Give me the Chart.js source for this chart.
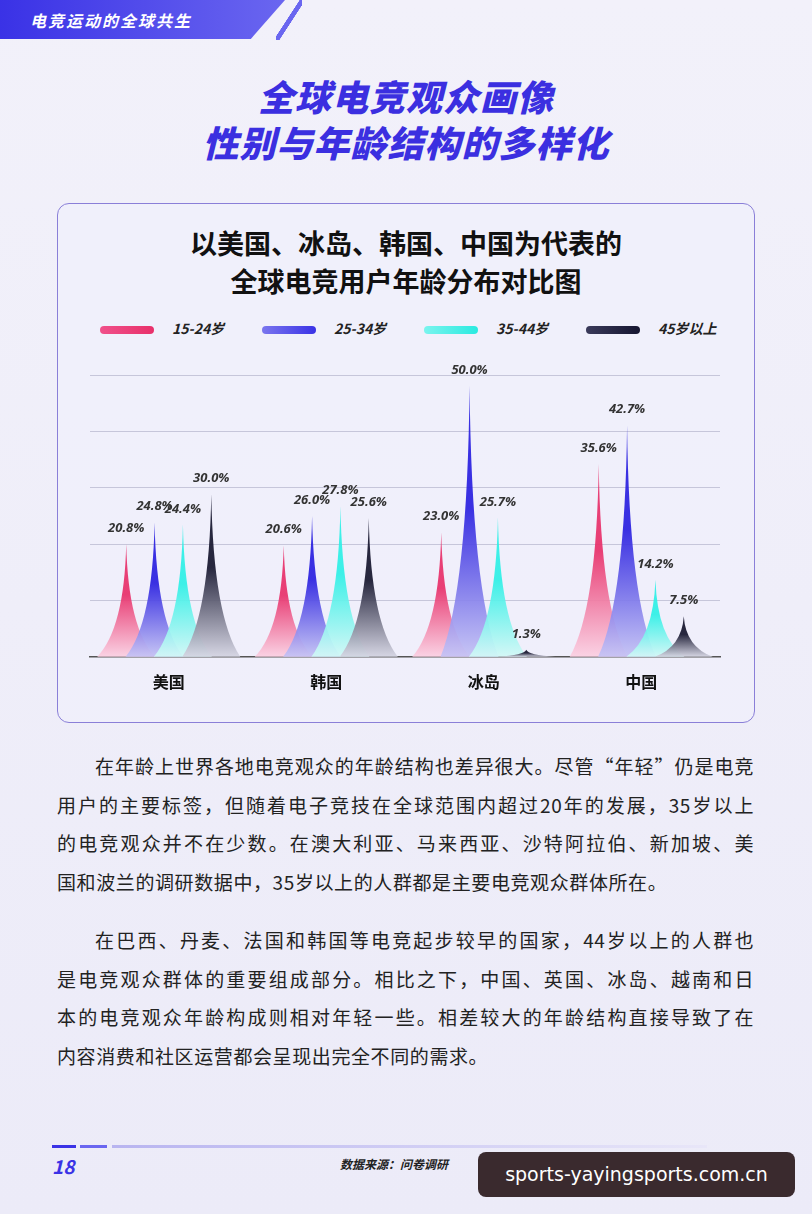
<!DOCTYPE html>
<html><head><meta charset="utf-8">
<script src="https://cdn.jsdelivr.net/npm/chart.js@4"></script>
<style>
body{margin:0;width:812px;height:1214px;overflow:hidden;background:linear-gradient(180deg,#f2f1fa,#ecebf8);font-family:"Noto Sans CJK SC","Noto Sans",sans-serif;position:relative}
.tab{position:absolute;left:0;top:0;width:285px;height:39px;background:linear-gradient(90deg,#3a32e6,#6a66f0);clip-path:polygon(0 0,100% 0,88% 100%,0 100%)}
.tab span{position:absolute;left:30px;top:8px;color:#fff;font-size:16px;font-weight:bold;letter-spacing:2px;font-style:italic}
.slash{position:absolute;left:276px;top:0;width:26px;height:40px;background:linear-gradient(to bottom right,transparent 45%,#6a66f0 46%,#6a66f0 56%,transparent 57%)}
h1{position:absolute;left:0;width:812px;top:72px;margin:0;text-align:center;font-size:36px;line-height:46px;font-style:italic;font-weight:900;color:#3b2fe0;letter-spacing:1px}
.card{position:absolute;left:57px;top:203px;width:696px;height:518px;border:1.5px solid #8a7fd8;border-radius:12px;background:rgba(240,240,252,.6)}
.card h2{margin:0;position:absolute;top:20px;width:100%;text-align:center;font-size:27px;line-height:38px;color:#111;font-weight:bold}
.leg{position:absolute;top:318px;font-size:14px;color:#222;font-style:italic;font-weight:bold}
.leg i{display:inline-block;width:54px;height:8px;border-radius:4px;vertical-align:middle;margin-right:18px}
#wrap{position:absolute;left:70px;top:340px;width:670px;height:360px}
.p{position:absolute;left:57px;width:697px;font-size:19px;letter-spacing:.6px;line-height:38.5px;color:#222}
.p span{display:block;white-space:nowrap;text-align:justify;text-align-last:justify}
.p span.f{padding-left:38px}
.p span.l{text-align-last:left}
.foot{position:absolute;top:1145px;left:52px;width:655px;height:3px;background:linear-gradient(90deg,#3a32e6 0,#3a32e6 24px,transparent 24px,transparent 28px,#6a66f0 28px,#6a66f0 55px,transparent 55px,transparent 60px,#b8b4f0 60px,#e8e6f8 100%)}
.pg{position:absolute;left:52px;top:1152px;font-size:19px;font-weight:bold;font-style:italic;color:#3a32e6}
.src{position:absolute;left:340px;top:1155px;font-size:12px;font-weight:bold;font-style:italic;color:#222}
.wm{position:absolute;left:478px;top:1152px;width:317px;height:45px;border-radius:8px;background:#3a2a2e;color:#fff;font-size:19px;line-height:45px;text-align:center;font-family:"DejaVu Sans",sans-serif}
</style></head><body>
<div class="tab"><span>电竞运动的全球共生</span></div><div class="slash"></div>
<h1>全球电竞观众画像<br>性别与年龄结构的多样化</h1>
<div class="card"><h2>以美国、冰岛、韩国、中国为代表的<br>全球电竞用户年龄分布对比图</h2></div>
<div class="leg" style="left:100px"><i style="background:linear-gradient(90deg,#f0508a,#e8306a)"></i>15-24岁</div>
<div class="leg" style="left:262px"><i style="background:linear-gradient(90deg,#7a76ee,#3a32e6)"></i>25-34岁</div>
<div class="leg" style="left:424px"><i style="background:linear-gradient(90deg,#7af4ee,#2aeae0)"></i>35-44岁</div>
<div class="leg" style="left:586px"><i style="background:linear-gradient(90deg,#3a3a5a,#151530)"></i>45岁以上</div>
<div id="wrap"><canvas id="c"></canvas></div>
<div class="p" style="top:747px"><span class="f">在年龄上世界各地电竞观众的年龄结构也差异很大。尽管“年轻”仍是电竞</span><span>用户的主要标签，但随着电子竞技在全球范围内超过20年的发展，35岁以上</span><span>的电竞观众并不在少数。在澳大利亚、马来西亚、沙特阿拉伯、新加坡、美</span><span class="l">国和波兰的调研数据中，35岁以上的人群都是主要电竞观众群体所在。</span></div>
<div class="p" style="top:921px"><span class="f">在巴西、丹麦、法国和韩国等电竞起步较早的国家，44岁以上的人群也</span><span>是电竞观众群体的重要组成部分。相比之下，中国、英国、冰岛、越南和日</span><span>本的电竞观众年龄构成则相对年轻一些。相差较大的年龄结构直接导致了在</span><span class="l">内容消费和社区运营都会呈现出完全不同的需求。</span></div>
<div class="foot"></div><div class="pg">18</div><div class="src">数据来源：问卷调研</div>
<div class="wm">sports-yayingsports.com.cn</div>
<script>
const countries = ['美国', '韩国', '冰岛', '中国'];
const ageGroups = ['15-24岁', '25-34岁', '35-44岁', '45岁以上'];
const age15_24 = [20.8, 20.6, 23.0, 35.6];
const age25_34 = [24.8, 26.0, 50.0, 42.7];
const age35_44 = [24.4, 27.8, 25.7, 14.2];
const age45plus = [30.0, 25.6, 1.3, 7.5];
const tipColors = ['#e8306a', '#2a20e0', '#2ef0e6', '#16162e'];
const baseColors = ['#fbd0e2', '#c4c2f4', '#d2f8f6', '#d4d4e2'];

const spikes = {
  id: 'spikes',
  afterDatasetsDraw(chart) {
    const ctx = chart.ctx;
    const baseY = chart.scales.y.getPixelForValue(0);
    chart.data.datasets.forEach((ds, di) => {
      chart.getDatasetMeta(di).data.forEach((bar, i) => {
        const x = bar.x, top = bar.y, hw = 29;
        const g = ctx.createLinearGradient(0, top, 0, baseY);
        g.addColorStop(0, tipColors[di]);
        g.addColorStop(0.45, tipColors[di]);
        g.addColorStop(1, baseColors[di]);
        ctx.save();
        ctx.globalAlpha = 0.92;
        ctx.fillStyle = g;
        ctx.beginPath();
        ctx.moveTo(x - hw, baseY);
        ctx.quadraticCurveTo(x - 2, baseY - (baseY - top) * 0.25, x, top);
        ctx.quadraticCurveTo(x + 2, baseY - (baseY - top) * 0.25, x + hw, baseY);
        ctx.closePath();
        ctx.fill();
        ctx.restore();
        ctx.save();
        ctx.font = 'italic bold 13px "Noto Sans", sans-serif';
        ctx.fillStyle = '#333';
        ctx.textAlign = 'center';
        ctx.fillText(ds.data[i].toFixed(1) + '%', x, top - 12);
        ctx.restore();
      });
    });
  }
};

const series = [age15_24, age25_34, age35_44, age45plus];
new Chart(document.getElementById('c'), {
  type: 'bar',
  data: {
    labels: countries,
    datasets: series.map((d, k) => ({ label: ageGroups[k], data: d, backgroundColor: 'transparent' }))
  },
  options: {
    animation: false,
    responsive: true,
    maintainAspectRatio: false,
    categoryPercentage: 0.72,
    barPercentage: 1,
    layout: { padding: { left: 20, right: 20, top: 35, bottom: 0 } },
    scales: {
      y: {
        min: 0, max: 52,
        ticks: { display: false, stepSize: 10.4 },
        border: { display: false },
        grid: { color: '#c6c6da', borderDash: [4, 4], drawTicks: false }
      },
      x: {
        grid: { display: false },
        border: { color: '#555', width: 1.5 },
        ticks: { color: '#111', font: { size: 16, weight: 'bold', family: '"Noto Sans CJK SC"' }, padding: 8 }
      }
    },
    plugins: { legend: { display: false }, tooltip: { enabled: false } }
  },
  plugins: [spikes]
});
</script>
</body></html>
